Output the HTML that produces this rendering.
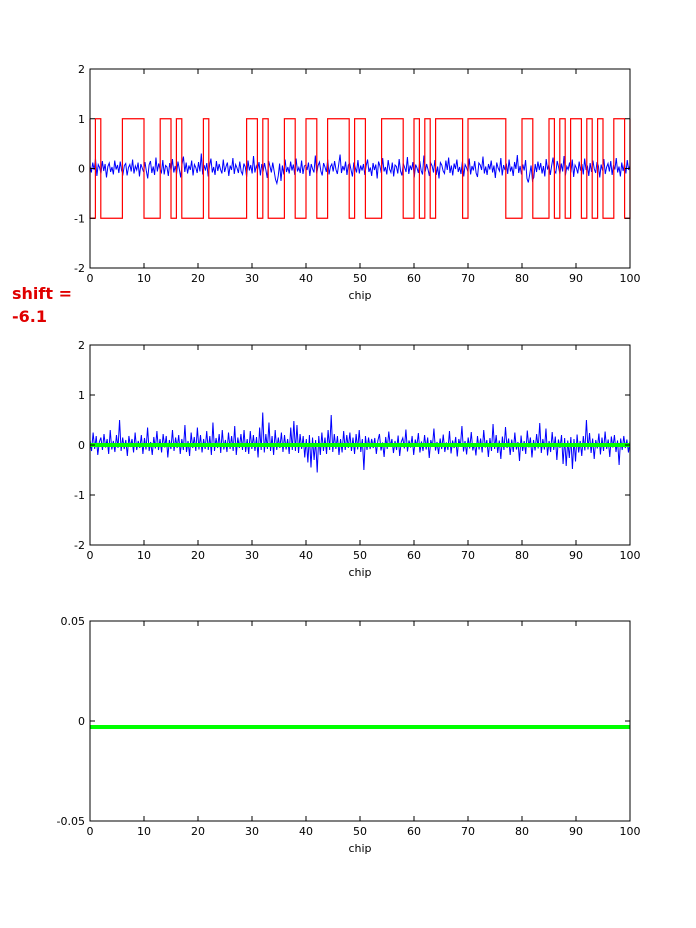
<!DOCTYPE html>
<html><head><meta charset="utf-8"><style>
body{margin:0;background:#fff;}
svg{font-family:"DejaVu Sans","Liberation Sans",sans-serif;}
</style></head><body>
<svg id="fig" width="696" height="923" viewBox="0 0 696 923" xmlns="http://www.w3.org/2000/svg">
<rect width="696" height="923" fill="#fff"/>
<text x="12" y="299" font-size="16" font-weight="bold" fill="#e00000">shift =</text>
<text x="12" y="322" font-size="16" font-weight="bold" fill="#e00000">-6.1</text>
</svg>
<script>
const xTicks=[0,10,20,30,40,50,60,70,80,90,100];
const chipLevels=[-1,1,-1,-1,-1,-1,1,1,1,1,-1,-1,-1,1,1,-1,1,-1,-1,-1,-1,1,-1,-1,-1,-1,-1,-1,-1,1,1,-1,1,-1,-1,-1,1,1,-1,-1,1,1,-1,-1,1,1,1,1,-1,1,1,-1,-1,-1,1,1,1,1,-1,-1,1,-1,1,-1,1,1,1,1,1,-1,1,1,1,1,1,1,1,-1,-1,-1,1,1,-1,-1,-1,1,-1,1,-1,1,1,-1,1,-1,1,-1,-1,1,1,-1];
const noise1=[5,-8,12,-3,20,-15,8,2,-10,15,-5,9,-18,4,11,-7,3,-12,16,-2,7,-9,14,-4,-11,6,10,-14,2,8,-6,18,-10,5,-3,12,-16,9,1,-7,13,-5,-20,7,15,-9,4,-13,22,-6,10,-2,-8,17,-12,6,3,-15,11,-4,19,-8,5,-11,14,-1,-18,9,24,-7,12,-10,6,-3,16,-14,8,2,-9,13,-6,30,-12,7,-4,11,-16,5,20,-8,3,-13,15,-5,9,-2,-10,18,-7,4,12,-15,6,-3,21,-11,8,1,-9,14,-6,-12,10,3,-17,16,-4,7,-10,25,-8,5,-2,13,-14,9,-6,11,-3,-19,15,4,-8,12,-5,-22,-30,-15,10,-25,6,-12,18,-7,3,-10,14,-4,8,-13,20,-6,2,-9,16,-11,5,7,-3,12,-15,9,-1,-8,26,-10,6,13,-5,-14,11,3,-7,18,-12,4,9,-6,15,-2,-11,8,28,-9,5,-4,14,-13,7,10,-3,-16,12,2,-8,17,-10,6,
-4,9,-13,6,18,-7,2,-15,11,-3,8,-20,14,5,-9,21,-6,3,-12,17,-1,-8,12,-16,7,4,-10,19,-5,-14,10,2,-7,23,-11,6,-3,13,-18,8,1,-9,15,-4,-12,26,-6,9,-2,-15,11,5,-8,17,-13,4,-20,12,7,-5,-10,16,-3,22,-9,6,-14,10,-1,18,-7,3,-11,14,-16,8,2,-6,20,-12,5,-4,15,-9,-17,11,7,-3,24,-10,4,-13,9,-2,16,-8,6,-19,12,1,-5,21,-14,7,-3,10,-11,18,-6,4,-15,13,-1,27,-9,5,-12,8,-4,17,-20,-28,-12,6,-24,-18,9,-7,14,-3,11,-10,5,-16,19,-2,8,-13,6,22,-5,-9,15,3,-11,10,-6,25,-14,4,-2,12,-8,18,-17,7,1,-10,14,-4,9,-12,20,-3,6,-15,11,-7,16,-1,-9,13,5,-18,8,-4,19,-11,3,10,-6,15,-13,7,-2,21,-8,4,-16,12,-5,9,-10,17,-3,6];
const noise2=[10,-12,25,-8,18,-20,6,15,-10,22,-5,12,-18,30,-9,8,-14,20,-6,50,-12,15,-8,10,-22,18,-4,12,-15,25,-10,8,-6,20,-18,14,-9,35,-12,6,-20,16,-7,28,-10,12,-15,22,-5,18,-25,10,-8,30,-12,15,-6,20,-18,12,-10,40,-14,8,-22,25,-6,16,-12,35,-9,20,-15,12,-8,28,-10,18,-20,45,-12,14,-6,22,-16,30,-9,10,-14,25,-8,18,-12,38,-20,15,-6,22,-10,30,-14,12,-18,28,-8,20,-12,16,-25,35,-10,65,-15,22,-8,45,-12,18,-20,30,-10,15,-6,25,-14,20,-9,12,-18,35,-10,48,-12,40,-16,22,-8,18,-25,12,-35,20,-45,15,-30,10,-55,18,-20,25,-12,15,-18,30,-10,60,-14,22,-8,18,-20,12,-15,28,-10,20,-6,25,-12,15,-18,22,-9,30,-14,12,-50,18,-10,15,-8,12,
-6,14,-18,9,22,-11,5,-24,16,-8,27,-4,12,-16,8,-10,19,-22,6,14,-7,31,-13,9,-5,18,-20,11,-3,24,-15,7,-12,20,-9,15,-26,10,-4,33,-11,6,-18,13,-8,21,-14,5,-10,28,-17,9,-6,16,-23,12,-3,38,-13,8,-19,15,-7,26,-11,4,-21,18,-9,13,-15,30,-5,10,-24,14,-12,42,-8,20,-16,9,-28,17,-10,36,-6,13,-20,11,-14,25,-9,6,-32,19,-12,8,-18,29,-5,15,-25,10,-11,22,-7,44,-16,12,-9,33,-21,8,-14,26,-10,17,-30,11,-6,20,-38,14,-42,9,-26,16,-48,12,-33,21,-15,8,-22,18,-11,50,-9,24,-16,13,-28,10,-7,23,-19,15,-12,27,-8,11,-24,17,-5,20,-14,9,-40,13,-10,18,-6,11,-15,8];
const greenLevel3=-0.003;

const svg=document.getElementById('fig');
const NS='http://www.w3.org/2000/svg';
const X0=90,X1=630;
function sx(v){return X0+(v/100)*(X1-X0);}
function mk(tag,attrs,parent){const e=document.createElementNS(NS,tag);for(const k in attrs)e.setAttribute(k,attrs[k]);(parent||svg).appendChild(e);return e;}

function panel(name,top,bottom,ymin,ymax,yTicks,yLabels){
  const g=mk('g',{});
  
  
  const sy=v=>bottom-(v-ymin)/(ymax-ymin)*(bottom-top);
  return {g,sy,top,bottom,yTicks,yLabels};
}
function frame(p){
  const {g,sy,top,bottom,yTicks,yLabels}=p;
  const r=mk('rect',{x:X0,y:top,width:X1-X0,height:bottom-top,fill:'none',stroke:'#000','stroke-width':1},g);
  
  
  xTicks.forEach(t=>{
    const x=sx(t);
    mk('line',{x1:x,x2:x,y1:bottom,y2:bottom-5,stroke:'#000'},g);
    mk('line',{x1:x,x2:x,y1:top,y2:top+5,stroke:'#000'},g);
    const tx=mk('text',{x:x,y:bottom+14,'font-size':11,'text-anchor':'middle'},g);
    
    
    tx.textContent=t;
  });
  yTicks.forEach((t,i)=>{
    const y=sy(t);
    mk('line',{x1:X0,x2:X0+5,y1:y,y2:y,stroke:'#000'},g);
    mk('line',{x1:X1,x2:X1-5,y1:y,y2:y,stroke:'#000'},g);
    const tx=mk('text',{x:X0-5,y:y+4,'font-size':11,'text-anchor':'end'},g);
    
    
    tx.textContent=yLabels[i];
  });
  const xl=mk('text',{x:(X0+X1)/2+0,y:bottom+31,'font-size':11,'text-anchor':'middle'},g);
  
  
  xl.textContent='chip';
}
function noiseLine(p,arr,name){
  const pts=arr.map((v,i)=>sx(i*100/(arr.length-1)).toFixed(2)+','+p.sy(v/100).toFixed(2)).join(' ');
  const l=mk('polyline',{points:pts,fill:'none',stroke:'#0000ff','stroke-width':1},p.g);
  
  
}

const p1=panel('top-panel',69,268,-2,2,[-2,-1,0,1,2],['-2','-1','0','1','2']);
noiseLine(p1,noise1,'received-signal');
let d='M'+sx(0)+','+p1.sy(1)+' L'+sx(0)+','+p1.sy(chipLevels[0]);
chipLevels.forEach((v,i)=>{
  d+=' L'+sx(i)+','+p1.sy(v)+' L'+sx(i+1)+','+p1.sy(v);
});
d+=' L'+sx(100)+','+p1.sy(1);
const sq=mk('path',{d:d,fill:'none',stroke:'#ff0000','stroke-width':1.2},p1.g);


frame(p1);

const p2=panel('middle-panel',345,545,-2,2,[-2,-1,0,1,2],['-2','-1','0','1','2']);
noiseLine(p2,noise2,'despread-signal');
const g2=mk('line',{x1:sx(0),x2:sx(100),y1:p2.sy(0),y2:p2.sy(0),stroke:'#00ff00','stroke-width':4},p2.g);


frame(p2);

const p3=panel('bottom-panel',621,821,-0.05,0.05,[-0.05,0,0.05],['-0.05','0','0.05']);
const g3=mk('line',{x1:sx(0),x2:sx(100),y1:p3.sy(greenLevel3),y2:p3.sy(greenLevel3),stroke:'#00ff00','stroke-width':4},p3.g);


frame(p3);
</script>
</body></html>
